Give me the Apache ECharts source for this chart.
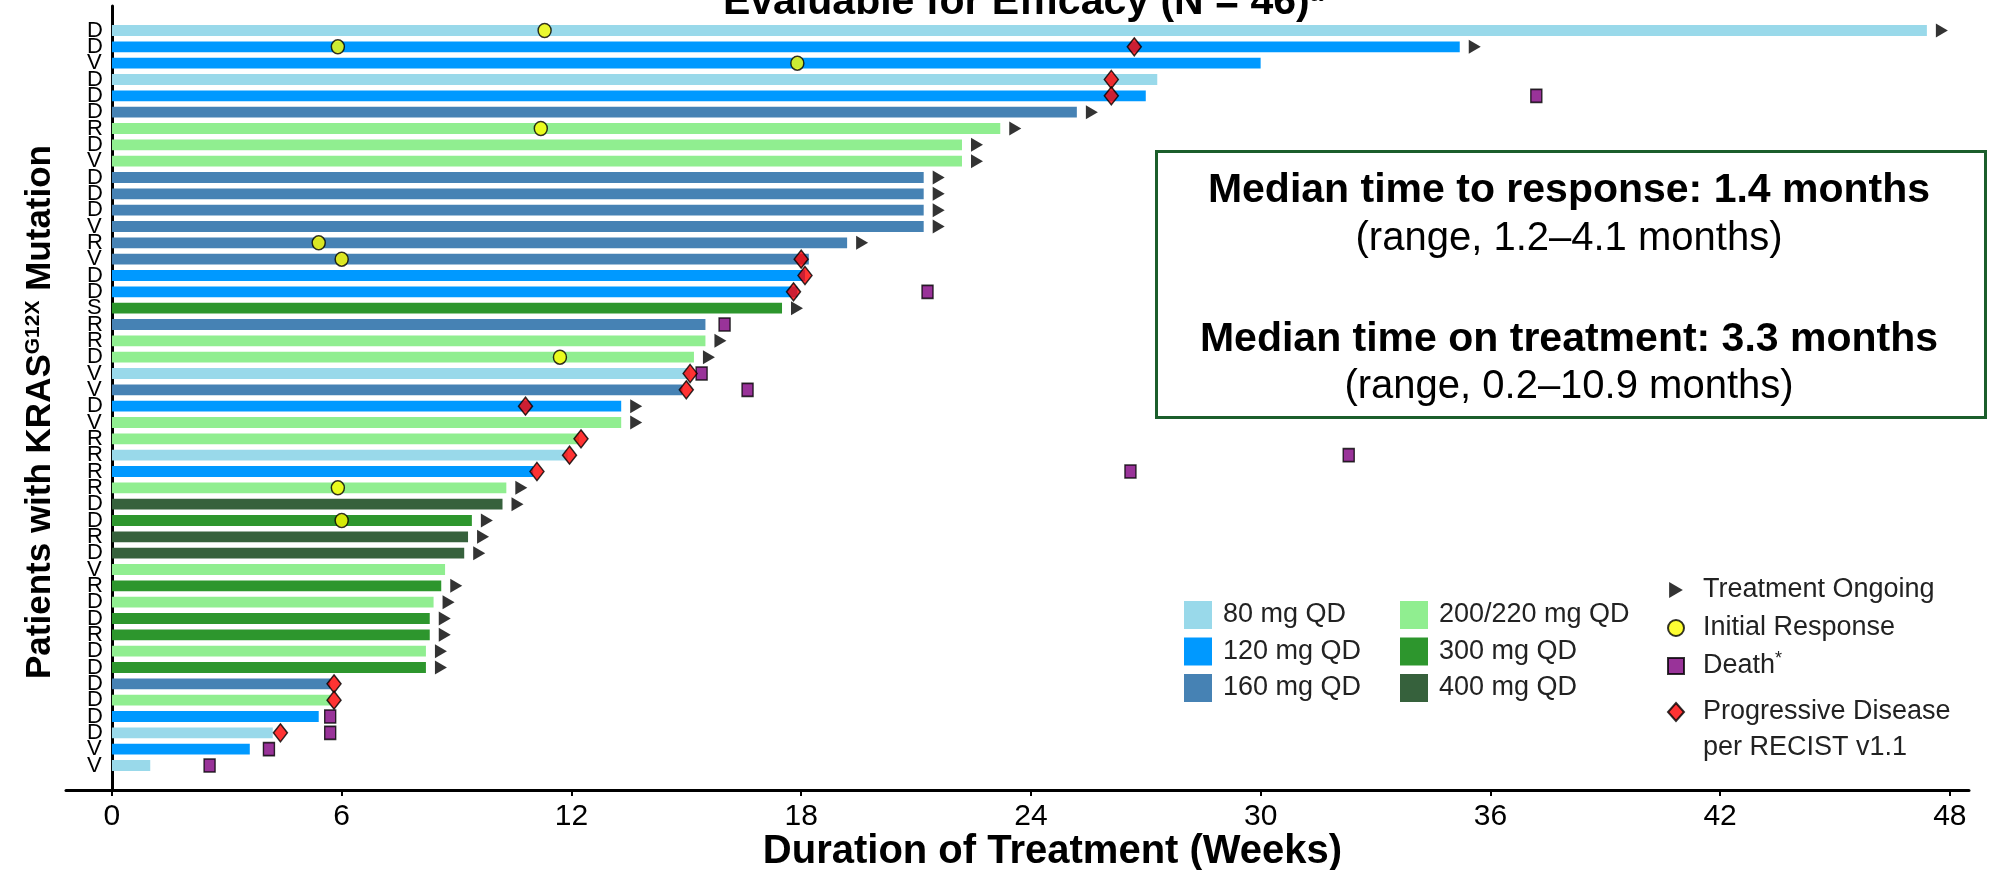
<!DOCTYPE html>
<html>
<head>
<meta charset="utf-8">
<title>Swimmer plot</title>
<script src="https://cdn.jsdelivr.net/npm/echarts@6/dist/echarts.min.js"></script>
<style>
  html, body { margin: 0; padding: 0; background: #fff; }
  #chart { width: 1992px; height: 870px; }
</style>
</head>
<body>
<div id="chart"></div>
<script>
// patient rows, top to bottom
const patientLabels = ['D','D','V','D','D','D','R','D','V','D','D','D','V','R','V','D','D','S','R','R','D','V','V','D','V','R','R','R','R','D','D','R','D','V','R','D','D','R','D','D','D','D','D','D','V','V'];
const doseGroups = ['80 mg QD', '120 mg QD', '160 mg QD', '200/220 mg QD', '300 mg QD', '400 mg QD'];
const doseColors = ['#99d9ea', '#0099ff', '#4682b4', '#90ee90', '#2d962d', '#36613c'];
// index into doseGroups for each patient
const patientDose = [0,1,1,0,1, 2,3,3,3,2, 2,2,2,2,2, 1,1,4,2,3, 3,0,2,1,3, 3,0,1,3,5, 4,5,5,3,4, 3,4,4,3,4, 2,3,1,0,1, 0];
// duration of treatment (weeks)
const weeksOnTreatment = [47.4,35.2,30.0,27.3,27.0, 25.2,23.2,22.2,22.2,21.2, 21.2,21.2,21.2,19.2,18.2, 18.1,17.9,17.5,15.5,15.5, 15.2,15.1,14.9,13.3,13.3, 12.2,11.9,11.0,10.3,10.2, 9.4,9.3,9.2,8.7,8.6, 8.4,8.3,8.3,8.2,8.2, 5.7,5.7,5.4,4.2,3.6, 1.0];

// events (row numbers are 1-based, top to bottom)
const ongoingRows = [1,2,6,7,8,9,10,11,12,13,14,18,20,21,24,25,29,30,31,32,33,35,36,37,38,39,40];
const responseRows = [1,2,3,7,14,15,21,29,31];
const responseWeeks = [11.3,5.9,17.9,11.2,5.4,6.0,11.7,5.9,6.0];
const deathRows = [5,17,19,22,23,27,28,43,44,45,46];
const deathWeeks = [37.2,21.3,16.0,15.4,16.6,32.3,26.6,5.7,5.7,4.1,2.55];
const pdRows = [2,4,5,15,16,17,22,23,24,26,27,28,41,42,44];
const pdWeeks = [26.7,26.1,26.1,18.0,18.1,17.8,15.1,15.0,10.8,12.25,11.95,11.1,5.8,5.8,4.4];

const xTicks = [0, 6, 12, 18, 24, 30, 36, 42, 48];

// one empty band above and below the rows
const yCats = [''].concat(patientLabels, ['']);

const FONT = '"Liberation Sans", Arial, Helvetica, sans-serif';

const barSeries = doseGroups.map(function (g, d) {
  return {
    name: g,
    type: 'bar',
    stack: 'dose',
    barWidth: '66%',
    itemStyle: { color: doseColors[d] },
    data: yCats.map(function (c, i) {
      if (i < 1 || i > patientLabels.length) return '-';
      return patientDose[i - 1] === d ? weeksOnTreatment[i - 1] : '-';
    })
  };
});

const markerSeries = [
  {
    name: 'Treatment Ongoing',
    type: 'scatter',
    symbol: 'path://M0,0L12,7L0,14Z',
    symbolSize: [12, 14],
    symbolOffset: [15, 0],
    itemStyle: { color: '#000' },
    data: ongoingRows.map(function (r) { return [weeksOnTreatment[r - 1], r]; })
  },
  {
    name: 'Initial Response',
    type: 'scatter',
    symbol: 'circle',
    symbolSize: [13, 14],
    itemStyle: { color: '#ffff00', borderColor: '#000', borderWidth: 1.5 },
    data: responseRows.map(function (r, i) { return [responseWeeks[i], r]; })
  },
  {
    name: 'Death*',
    type: 'scatter',
    symbol: 'rect',
    symbolSize: [11, 13],
    itemStyle: { color: '#800080', borderColor: '#000', borderWidth: 1.5 },
    data: deathRows.map(function (r, i) { return [deathWeeks[i], r]; })
  },
  {
    name: 'Progressive Disease',
    type: 'scatter',
    symbol: 'diamond',
    symbolSize: [14, 18],
    itemStyle: { color: '#ff0000', borderColor: '#000', borderWidth: 1.5 },
    data: pdRows.map(function (r, i) { return [pdWeeks[i], r]; })
  }
];

const legendText = { fontFamily: FONT, fontSize: 27, color: '#222', padding: [0, 0, 0, 6] };

const chart = echarts.init(document.getElementById('chart'));
chart.setOption({
  animation: false,
  backgroundColor: '#fff',
  title: {
    text: 'Evaluable for Efficacy (N = 46){sup|a}',
    left: 1018,
    top: -23,
    textAlign: 'center',
    textStyle: {
      fontFamily: FONT, fontSize: 41, fontWeight: 'bold', color: '#000',
      rich: { sup: { fontFamily: FONT, fontSize: 24, fontWeight: 'bold', verticalAlign: 'top', color: '#000' } }
    }
  },
  grid: { left: 66, right: 23, top: 6, bottom: 80, containLabel: false, outerBoundsMode: 'none' },
  xAxis: {
    type: 'value',
    min: -1.2,
    max: 48.5,
    splitLine: { show: false },
    axisLine: { show: true, lineStyle: { color: '#000', width: 3 } },
    axisTick: { show: true, customValues: xTicks, length: 6, lineStyle: { color: '#000', width: 2 } },
    axisLabel: { customValues: xTicks, fontFamily: FONT, fontSize: 30, color: '#000', margin: 12 },
    name: 'Duration of Treatment (Weeks)',
    nameLocation: 'middle',
    nameGap: 42,
    nameMoveOverlap: false,
    nameTextStyle: { fontFamily: FONT, fontSize: 40, fontWeight: 'bold', color: '#000', padding: [0, 0, 0, 70] }
  },
  yAxis: {
    type: 'category',
    inverse: true,
    data: yCats,
    axisLine: { show: true, lineStyle: { color: '#000', width: 3 } },
    axisTick: { show: false },
    axisLabel: {
      inside: true, margin: 21, interval: 0,
      fontFamily: FONT, fontSize: 22, color: '#000'
    },
    name: 'Patients with KRAS{sup|G12X} Mutation',
    nameLocation: 'middle',
    nameRotate: 90,
    nameGap: 8,
    nameMoveOverlap: false,
    nameTextStyle: {
      fontFamily: FONT, fontSize: 35, fontWeight: 'bold', color: '#000', padding: [0, 28, 0, 0],
      rich: { sup: { fontFamily: FONT, fontSize: 21, fontWeight: 'bold', verticalAlign: 'top', color: '#000' } }
    }
  },
  legend: [
    {
      orient: 'vertical', left: 1179, top: 596,
      data: doseGroups.slice(0, 3), icon: 'rect',
      itemWidth: 28, itemHeight: 28, itemGap: 8.5,
      textStyle: legendText
    },
    {
      orient: 'vertical', left: 1395, top: 596,
      data: doseGroups.slice(3), icon: 'rect',
      itemWidth: 28, itemHeight: 28, itemGap: 8.5,
      textStyle: legendText
    },
    {
      orient: 'vertical', left: 1662, top: 569,
      data: ['Treatment Ongoing', 'Initial Response', 'Death*'],
      itemWidth: 16, itemHeight: 16, itemGap: 6,
      formatter: function (n) { return n === 'Death*' ? 'Death{sup|*}' : n; },
      textStyle: Object.assign({}, legendText, {
        padding: [0, 0, 0, 14], lineHeight: 32,
        rich: { sup: { fontFamily: FONT, fontSize: 18, color: '#222', verticalAlign: 'top' } }
      })
    },
    {
      orient: 'vertical', left: 1662, top: 653,
      data: ['Progressive Disease'],
      itemWidth: 16, itemHeight: 18,
      // blank first line keeps the marker level with the first text line
      formatter: function () { return ' \nProgressive Disease\nper RECIST v1.1'; },
      textStyle: Object.assign({}, legendText, { padding: [0, 0, 0, 14], lineHeight: 36 })
    }
  ],
  graphic: [
    { type: 'rect', left: 1155, top: 150, shape: { width: 829, height: 266 },
      style: { fill: '#fff', stroke: '#1b5e2b', lineWidth: 3 }, z: 10 },
    { type: 'text', x: 1569, y: 191, z: 11,
      style: { text: 'Median time to response: 1.4 months', font: 'bold 41px ' + FONT, fill: '#000', align: 'center', verticalAlign: 'middle' } },
    { type: 'text', x: 1569, y: 239, z: 11,
      style: { text: '(range, 1.2\u20134.1 months)', font: '40px ' + FONT, fill: '#000', align: 'center', verticalAlign: 'middle' } },
    { type: 'text', x: 1569, y: 340, z: 11,
      style: { text: 'Median time on treatment: 3.3 months', font: 'bold 41px ' + FONT, fill: '#000', align: 'center', verticalAlign: 'middle' } },
    { type: 'text', x: 1569, y: 387, z: 11,
      style: { text: '(range, 0.2\u201310.9 months)', font: '40px ' + FONT, fill: '#000', align: 'center', verticalAlign: 'middle' } }
  ],
  series: barSeries.concat(markerSeries)
});
</script>
</body>
</html>
